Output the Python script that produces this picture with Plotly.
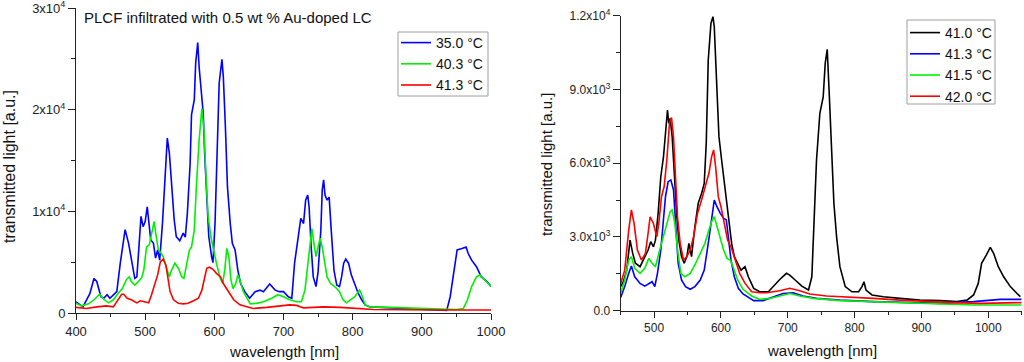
import plotly.graph_objects as go

# ---------------- Left panel data (PLCF, 0.5 wt % Au-doped LC) ----------------
L_blue_wl = [400, 410, 420, 426, 430, 436, 440, 445, 449, 459, 464, 467, 471, 476, 480, 485, 488, 491, 494, 497,
             500, 503, 505, 508, 512, 515, 518, 521, 525, 528, 532, 535, 538, 542, 545, 550, 555, 558, 561, 565,
             567, 571, 573, 576, 578, 582, 584, 586, 589, 592, 596, 598, 601, 604, 607, 611, 613, 616, 619, 623,
             626, 630, 634, 638, 644, 651, 659, 666, 671, 680, 688, 694, 700, 707, 712, 716, 721, 725, 729, 732,
             735, 737, 740, 743, 747, 750, 754, 756, 758, 760, 763, 766, 769, 773, 777, 781, 784, 787, 790, 794,
             798, 803, 808, 813, 818, 825, 840, 868, 902, 926, 936, 941, 945, 951, 958, 964, 967, 972, 979, 986,
             994, 1000]
L_blue_val = [1100, 600, 1900, 3400, 3100, 1600, 1450, 1800, 1450, 2100, 4900, 6200, 8200, 6850, 5200, 3400, 3550, 6200, 9500, 8500,
              9000, 10450, 8800, 7200, 6850, 5400, 6200, 5200, 8800, 12400, 17200, 15700, 12400, 9150, 7500, 7100, 7850, 7450, 9800, 14700,
              19500, 20950, 24550, 26600, 24200, 21600, 19600, 15700, 11400, 7500, 5550, 4950, 8800, 16700, 22600, 24950, 23250, 18300, 12400, 8800,
              6850, 6200, 4200, 2900, 2100, 1450, 2100, 2250, 2100, 2850, 2250, 2100, 2100, 1600, 1450, 4900, 7200, 9300, 8800, 11100,
              11600, 10450, 6500, 3550, 2600, 4050, 8150, 12100, 13100, 11600, 11100, 11400, 8150, 4200, 2750, 2600, 3550, 4900, 5300, 4900,
              3750, 2750, 1950, 1300, 800, 600, 550, 450, 300, 250, 250, 1600, 3550, 6200, 6350, 6500, 5850, 5200, 4550, 3550,
              3100, 2600]

L_green_wl = [400, 408, 418, 427, 434, 440, 447, 454, 461, 467, 473, 477, 480, 485, 490, 495, 498, 502, 506, 509,
              513, 516, 519, 522, 526, 531, 535, 538, 543, 548, 553, 556, 560, 564, 567, 571, 574, 578, 582, 585,
              588, 591, 595, 598, 603, 608, 612, 615, 618, 621, 624, 627, 631, 634, 637, 642, 648, 652, 661, 671,
              683, 692, 700, 709, 719, 726, 731, 735, 738, 741, 744, 747, 750, 753, 756, 759, 763, 768, 774, 781,
              786, 791, 797, 803, 810, 813, 818, 825, 854, 902, 950, 960, 966, 972, 979, 984, 991, 1000]
L_green_val = [950, 700, 900, 1350, 1850, 1350, 1000, 1300, 1950, 2400, 3300, 3550, 3100, 2750, 3100, 3500, 4200, 6500, 6700, 7850,
               9000, 7500, 6200, 6000, 5550, 4400, 3550, 4200, 4900, 4400, 3550, 3400, 4900, 6200, 6500, 8150, 12400, 17000, 20100, 18000,
               13400, 9500, 7500, 6500, 4900, 3550, 2900, 4200, 6350, 5550, 3250, 2400, 2900, 3750, 3250, 2100, 1300, 900, 950, 1100,
               1450, 1800, 1600, 1300, 1100, 1100, 2250, 4900, 6850, 8300, 6850, 5550, 6500, 7350, 6500, 5200, 3550, 2900, 2600, 2100,
               1300, 1000, 1300, 1600, 2250, 1800, 800, 600, 550, 450, 350, 450, 1300, 2600, 3550, 3750, 3250, 2600]

L_red_wl = [400, 415, 430, 444, 454, 461, 466, 469, 474, 480, 488, 493, 500, 505, 509, 514, 518, 522, 526, 530,
            533, 536, 541, 548, 555, 562, 570, 577, 582, 586, 589, 593, 598, 603, 609, 613, 620, 628, 637, 649,
            656, 676, 695, 709, 719, 729, 758, 782, 830, 878, 926, 975, 1000]
L_red_val = [550, 450, 600, 700, 600, 1350, 1850, 1850, 1450, 1300, 1000, 1200, 1100, 1000, 1750, 2900, 3750, 5050, 5300, 4700,
             3400, 2100, 1300, 950, 900, 950, 1200, 1450, 2250, 3550, 4400, 4500, 4300, 3900, 3550, 2900, 2100, 1300, 800, 600,
             450, 550, 700, 800, 750, 500, 600, 550, 350, 300, 300, 300, 300]

# ---------------- Right panel data ----------------
R_black_wl = [450, 454, 459, 464, 468, 472, 479, 485, 491, 495, 499, 502, 506, 510, 514, 517, 520, 522, 524, 527,
              530, 534, 537, 541, 545, 549, 552, 556, 561, 566, 571, 575, 578, 581, 585, 588, 590, 594, 597, 601,
              605, 609, 612, 616, 620, 625, 630, 636, 641, 649, 658, 671, 678, 688, 698, 703, 711, 721, 731, 736,
              739, 743, 748, 753, 756, 759, 762, 766, 769, 773, 778, 786, 796, 806, 811, 814, 817, 826, 843, 868,
              898, 928, 953, 968, 978, 985, 990, 997, 1003, 1008, 1015, 1023, 1033, 1043, 1048]
R_black_val = [975, 1180, 1650, 2870, 2330, 1930, 1790, 2130, 2470, 2810, 2600, 2870, 3960, 5450, 6260, 7210, 8160, 7620, 7820, 7080,
               5590, 3820, 2870, 2200, 1930, 2200, 2740, 2200, 3420, 4370, 4770, 5180, 6810, 10200, 11690, 11960, 11550, 9250, 7080, 6130,
               5180, 4370, 3690, 2740, 2200, 1930, 1650, 1790, 1380, 910, 770, 770, 980, 1270, 1520, 1450, 1250, 1000, 840, 1380,
               3420, 6130, 8030, 8700, 10060, 10630, 8840, 6130, 4370, 3010, 1790, 980, 770, 770, 980, 1180, 840, 640, 570, 500,
               430, 410, 370, 430, 640, 1110, 1930, 2260, 2580, 2330, 1790, 1380, 980, 700, 570]

R_blue_wl = [450, 456, 462, 466, 471, 479, 486, 494, 497, 501, 505, 510, 514, 517, 521, 525, 529, 532, 536, 541,
             547, 554, 561, 569, 575, 581, 586, 590, 594, 599, 604, 608, 611, 615, 620, 626, 633, 641, 649, 663,
             678, 693, 708, 723, 743, 778, 828, 878, 928, 978, 1018, 1050]
R_blue_val = [540, 980, 1520, 1820, 1380, 1110, 1000, 1110, 1180, 980, 1520, 2470, 3550, 4640, 5250, 5320, 4910, 3420, 1930, 1250,
              980, 870, 980, 1250, 1650, 2740, 3820, 4500, 4230, 3960, 3760, 3690, 3010, 2060, 1380, 910, 680, 540, 410, 410,
              540, 700, 730, 600, 500, 430, 370, 330, 300, 370, 460, 460]

R_green_wl = [450, 456, 462, 466, 471, 479, 486, 492, 497, 502, 507, 514, 519, 524, 527, 531, 535, 540, 546, 554,
              561, 569, 576, 582, 587, 590, 594, 599, 604, 609, 614, 619, 625, 633, 641, 646, 658, 673, 688, 703,
              718, 738, 778, 828, 878, 928, 978, 1050]
R_green_val = [700, 1250, 2060, 2200, 1720, 1520, 1720, 2130, 1930, 1790, 2330, 3010, 3550, 4030, 4100, 3550, 2470, 1520, 1380, 1520,
               1860, 2330, 2740, 3280, 3690, 3820, 3420, 2870, 2470, 2130, 2060, 1720, 1250, 870, 680, 600, 460, 500, 600, 700,
               600, 500, 410, 370, 300, 270, 230, 230]

R_red_wl = [450, 456, 462, 466, 470, 475, 481, 487, 491, 494, 499, 504, 507, 511, 515, 519, 523, 526, 529, 532,
            535, 539, 544, 549, 554, 559, 565, 571, 577, 582, 586, 589, 592, 596, 600, 605, 610, 615, 621, 628,
            636, 646, 658, 668, 688, 703, 718, 733, 758, 788, 828, 868, 908, 948, 988, 1028, 1050]
R_red_val = [1110, 1650, 3280, 4100, 3550, 2470, 2060, 2330, 3150, 3820, 3550, 3010, 3550, 4640, 5040, 6130, 7620, 7860, 7080, 5450,
             3820, 2740, 2060, 2200, 2470, 3010, 3960, 4500, 5040, 5590, 6260, 6540, 5860, 4640, 4230, 3550, 2870, 2600, 2060, 1520,
             1110, 770, 730, 730, 810, 910, 810, 680, 600, 570, 500, 430, 370, 330, 300, 330, 330]

left_names = ["35.0 °C", "40.3 °C", "41.3 °C"]
right_names = ["41.0 °C", "41.3 °C", "41.5 °C", "42.0 °C"]

L_yticks = [0, 10000, 20000, 30000]
L_yticktext = ["0", "1x10<sup>4</sup>", "2x10<sup>4</sup>", "3x10<sup>4</sup>"]
R_yticks = [0, 3000, 6000, 9000, 12000]
R_yticktext = ["0.0", "3.0x10<sup>3</sup>", "6.0x10<sup>3</sup>", "9.0x10<sup>3</sup>", "1.2x10<sup>4</sup>"]

FONT = "Liberation Sans, Arial, sans-serif"
BLUE, GREEN, RED, BLACK = "#0000ff", "#00f000", "#ff0000", "#000000"
W, H = 1024, 362

fig = go.Figure()

for wl, val, name, col in [(L_blue_wl, L_blue_val, left_names[0], BLUE),
                           (L_green_wl, L_green_val, left_names[1], GREEN),
                           (L_red_wl, L_red_val, left_names[2], RED)]:
    fig.add_trace(go.Scatter(x=wl, y=val, mode="lines", name=name,
                             line=dict(color=col, width=1.6), xaxis="x", yaxis="y", legend="legend"))

for wl, val, name, col in [(R_black_wl, R_black_val, right_names[0], BLACK),
                           (R_blue_wl, R_blue_val, right_names[1], BLUE),
                           (R_green_wl, R_green_val, right_names[2], GREEN),
                           (R_red_wl, R_red_val, right_names[3], RED)]:
    fig.add_trace(go.Scatter(x=wl, y=val, mode="lines", name=name,
                             line=dict(color=col, width=1.6), xaxis="x2", yaxis="y2", legend="legend2"))

axis_common = dict(showline=True, linecolor="#222", linewidth=1, ticks="outside", tickcolor="#222",
                   showgrid=False, zeroline=False, automargin=False, ticklabeloverflow="allow",
                   tickfont=dict(family=FONT, size=13, color="#222"))
small_tick = dict(family=FONT, size=12, color="#222")

# legend frames (drawn as shapes so their size matches the reference)
legend_frames = [(398, 32, 488, 96), (907, 20, 995, 104)]
shapes = [dict(type="rect", xref="paper", yref="paper", layer="above",
               x0=x0 / W, x1=x1 / W, y0=1 - y1 / H, y1=1 - y0 / H,
               fillcolor="white", line=dict(color="#a0a0a0", width=1))
          for (x0, y0, x1, y1) in legend_frames]

fig.update_layout(
    template="none",
    width=W, height=H, margin=dict(l=0, r=0, t=0, b=0, pad=0, autoexpand=False),
    paper_bgcolor="white", plot_bgcolor="white", hovermode=False,
    font=dict(family=FONT, color="#222"),
    xaxis=dict(domain=[76/W, 491/W], range=[400, 1000], anchor="y",
               tickmode="array", tickvals=[400, 500, 600, 700, 800, 900, 1000], ticklen=6,
               minor=dict(tickmode="array", tickvals=[450, 550, 650, 750, 850, 950], ticklen=3,
                          ticks="outside", tickcolor="#222"),
               **axis_common),
    yaxis=dict(domain=[1-313/H, 1-8/H], range=[0, 30000], anchor="x",
               tickmode="array", tickvals=L_yticks, ticktext=L_yticktext, ticklen=7,
               minor=dict(tickmode="array", tickvals=[5000, 15000, 25000], ticklen=4,
                          ticks="outside", tickcolor="#222"),
               **axis_common),
    xaxis2=dict(domain=[620.7/W, 1021.7/W], range=[450, 1050], anchor="y2",
                tickmode="array", tickvals=[500, 600, 700, 800, 900, 1000], ticklen=6,
                minor=dict(tickmode="array", tickvals=[450, 550, 650, 750, 850, 950, 1050], ticklen=3,
                           ticks="outside", tickcolor="#222"),
                **{**axis_common, "tickfont": small_tick}),
    yaxis2=dict(domain=[1-310.7/H, 1-15.7/H], range=[0, 12000], anchor="x2",
                tickmode="array", tickvals=R_yticks, ticktext=R_yticktext, ticklen=7,
                minor=dict(tickmode="array", tickvals=[1500, 4500, 7500, 10500], ticklen=4,
                           ticks="outside", tickcolor="#222"),
                **{**axis_common, "tickfont": small_tick}),
    legend=dict(x=396/W, y=1-27/H, xanchor="left", yanchor="top",
                bgcolor="rgba(0,0,0,0)", borderwidth=0,
                font=dict(family=FONT, size=14, color="#111")),
    legend2=dict(x=905/W, y=1-17/H, xanchor="left", yanchor="top",
                 bgcolor="rgba(0,0,0,0)", borderwidth=0,
                 font=dict(family=FONT, size=14, color="#111")),
    showlegend=True,
    shapes=shapes,
)

annots = [
    dict(text="PLCF infiltrated with 0.5 wt % Au-doped LC", x=82/W, y=1-17/H, xanchor="left", yanchor="middle",
         font=dict(size=15)),
    dict(text="transmitted light [a.u.]", x=9/W, y=1-167/H, textangle=-90, xanchor="center", yanchor="middle",
         font=dict(size=16)),
    dict(text="wavelength [nm]", x=284/W, y=1-351/H, xanchor="center", yanchor="middle", font=dict(size=15)),
    dict(text="transmitted light [a.u.]", x=546/W, y=1-165/H, textangle=-90, xanchor="center", yanchor="middle",
         font=dict(size=15)),
    dict(text="wavelength [nm]", x=822/W, y=1-350/H, xanchor="center", yanchor="middle", font=dict(size=15)),
]
for a in annots:
    a.update(xref="paper", yref="paper", showarrow=False)
    a["font"] = dict(family=FONT, color="#111", **a["font"])
fig.update_layout(annotations=annots)

fig.write_html("out.html", config={"displayModeBar": False, "staticPlot": True},
               post_script="document.body.style.margin='0';document.body.style.overflow='hidden';")
